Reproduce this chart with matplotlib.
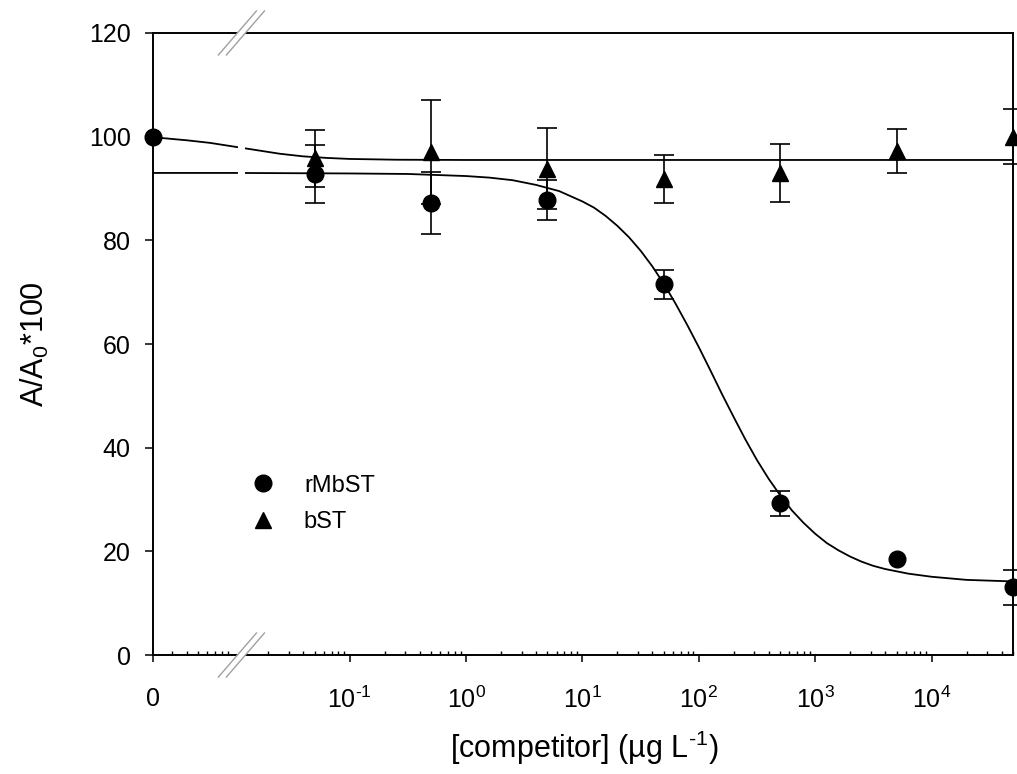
import matplotlib.pyplot as plt
from matplotlib.patches import Polygon
from matplotlib.ticker import FixedLocator, NullFormatter

plt.rcParams["font.family"] = ["Liberation Sans", "DejaVu Sans"]
plt.rcParams["mathtext.fontset"] = "custom"
plt.rcParams["mathtext.rm"] = "Liberation Sans"
plt.rcParams["mathtext.it"] = "Liberation Sans:italic"
plt.rcParams["mathtext.bf"] = "Liberation Sans:bold"

# measured points (competitor concentration in ug/L, 0 = no competitor)
conc = [0, 0.05, 0.5, 5, 50, 500, 5000, 50000]
rmbst = [100, 92.8, 87.2, 87.8, 71.5, 29.3, 18.5, 13.1]
rmbst_err = [0, 5.6, 6.0, 3.8, 2.8, 2.4, 0, 3.4]
bst = [100, 95.8, 97.0, 93.8, 91.8, 93.0, 97.2, 100.0]
bst_err = [0, 5.5, 10.0, 7.8, 4.6, 5.6, 4.2, 5.3]

# fitted curves (log10 concentration, response)
rmbst_fit_logx = [-2.69, -2.0, -1.0, -0.5, 0.0, 0.2, 0.4, 0.6, 0.8, 1.0, 1.1, 1.2,
                  1.3, 1.4, 1.5, 1.6, 1.7, 1.8, 1.9, 2.0, 2.1, 2.2, 2.3, 2.4, 2.5,
                  2.6, 2.7, 2.8, 2.9, 3.0, 3.1, 3.2, 3.3, 3.4, 3.5, 3.6, 3.8, 4.0,
                  4.3, 4.7]
rmbst_fit = [93.0, 93.0, 92.9, 92.8, 92.4, 92.1, 91.6, 90.7, 89.5, 87.5, 86.3, 84.7,
             82.8, 80.6, 78.0, 75.0, 71.6, 67.8, 63.7, 59.4, 54.9, 50.3, 45.9, 41.6,
             37.6, 34.0, 30.8, 27.9, 25.5, 23.4, 21.6, 20.2, 19.0, 18.0, 17.2, 16.6,
             15.7, 15.1, 14.5, 14.2]
bst_fit_logx = [-2.69, -2.5, -2.4, -2.2, -2.0, -1.8, -1.6, -1.4, -1.2, -1.0, -0.6,
                0.0, 4.7]
bst_fit = [99.9, 99.5, 99.3, 98.8, 98.1, 97.4, 96.7, 96.2, 95.9, 95.7, 95.55, 95.5,
           95.5]

# where "0" sits on the log axis, and the axis break
ZERO_LOGX = -2.69
MAX_LOGX = 4.7
BREAK_LOGX = -1.93
GAP_LOGX = (-1.961, -1.901)
major_logx = [-1, 0, 1, 2, 3, 4]
HYPHEN = "\u2010"

fig = plt.figure(figsize=(10.17, 7.74), dpi=100)
ax = fig.add_axes([0.1504, 0.1537, 0.8457, 0.8037])
ax.set_xscale("log")
ax.set_xlim(10**ZERO_LOGX, 10**MAX_LOGX)
ax.set_ylim(0, 120)

xs = [10**ZERO_LOGX if c == 0 else c for c in conc]

ax.plot([10**v for v in rmbst_fit_logx], rmbst_fit, color="black", lw=1.3, zorder=2)
ax.plot([10**v for v in bst_fit_logx], bst_fit, color="black", lw=1.3, zorder=2)
ax.axvspan(10**GAP_LOGX[0], 10**GAP_LOGX[1], color="white", lw=0, zorder=2.2)

for ys, err in [(rmbst, rmbst_err), (bst, bst_err)]:
    ex = [x for x, e in zip(xs, err) if e > 0]
    ey = [y for y, e in zip(ys, err) if e > 0]
    ee = [e for e in err if e > 0]
    ax.errorbar(ex, ey, yerr=ee, fmt="none", ecolor="black", elinewidth=1.2,
                capsize=7, capthick=1.2, clip_on=False, zorder=3)

ax.plot(xs[1:], bst[1:], "^", color="black", ms=12, clip_on=False, zorder=4, label="bST")
ax.plot(xs, rmbst, "o", color="black", ms=12, clip_on=False, zorder=4, label="rMbST")

handles, labels = ax.get_legend_handles_labels()
ax.legend(handles[::-1], labels[::-1], loc="upper left", bbox_to_anchor=(0.100, 0.309),
          frameon=False, fontsize=17, handletextpad=1.25, labelspacing=0.6,
          handlelength=1.0, borderpad=0)

# ticks
ax.xaxis.set_major_locator(FixedLocator([10**ZERO_LOGX] + [10**v for v in major_logx]))
ax.set_xticklabels(["0"] + [f"$10^{{{str(v).replace('-', HYPHEN)}}}$" for v in major_logx])
minor = []
for dec in range(-3, 5):
    for m in range(2, 10):
        v = m * 10.0**dec
        if 10**ZERO_LOGX < v < 10**MAX_LOGX:
            minor.append(v)
ax.xaxis.set_minor_locator(FixedLocator(minor))
ax.xaxis.set_minor_formatter(NullFormatter())
ax.tick_params(axis="x", which="major", direction="out", length=5, width=1.1,
               labelsize=18, pad=18)
ax.tick_params(axis="x", which="minor", direction="in", length=3, width=1.0)
ax.set_yticks(range(0, 121, 20))
ax.tick_params(axis="y", direction="out", length=6, width=1.1, labelsize=18, pad=10)
for s in ax.spines.values():
    s.set_linewidth(1.4)

ax.set_xlabel(f"[competitor] (µg L$^{{{HYPHEN}1}}$)", fontsize=22)
ax.set_ylabel("A/A$_0$*100", fontsize=22)
ax.xaxis.set_label_coords(0.501, -0.119)
ax.yaxis.set_label_coords(-0.118, 0.5)

# axis break marks on top and bottom spines
bx = (BREAK_LOGX - ZERO_LOGX) / (MAX_LOGX - ZERO_LOGX)
hw, hh, off = 19 / 860, 22 / 622, 4 / 860
for yc in (0.0, 1.0):
    poly = Polygon([(bx - hw - off, yc - hh), (bx + hw - off, yc + hh),
                    (bx + hw + off, yc + hh), (bx - hw + off, yc - hh)],
                   closed=True, transform=ax.transAxes, facecolor="white",
                   edgecolor="none", clip_on=False, zorder=5)
    ax.add_patch(poly)
    for sgn in (-1, 1):
        ax.plot([bx - hw + sgn * off, bx + hw + sgn * off], [yc - hh, yc + hh],
                transform=ax.transAxes, color="#a0a0a0", lw=1.0, clip_on=False, zorder=6)

fig.savefig("out.png", dpi=100)
